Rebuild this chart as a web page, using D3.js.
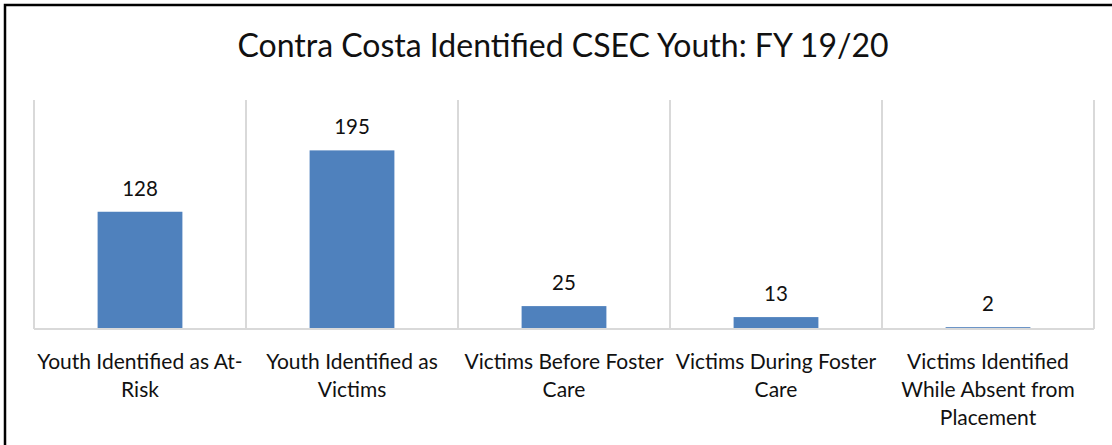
<!DOCTYPE html>
<html>
<head>
<meta charset="utf-8">
<script src="https://cdn.jsdelivr.net/npm/d3@7"></script>
<style>
  html, body { margin: 0; padding: 0; background: #fff; }
  svg { display: block; font-family: Lato, "Open Sans", sans-serif; }
</style>
</head>
<body>
<div id="chart"></div>
<script>
// chart data
const title = "Contra Costa Identified CSEC Youth: FY 19/20";
const categories = [
    "Youth Identified as At-Risk",
    "Youth Identified as Victims",
    "Victims Before Foster Care",
    "Victims During Foster Care",
    "Victims Identified While Absent from Placement"
];
// how the axis labels wrap in the picture
const categoryLines = [
    ["Youth Identified as At-", "Risk"],
    ["Youth Identified as", "Victims"],
    ["Victims Before Foster", "Care"],
    ["Victims During Foster", "Care"],
    ["Victims Identified", "While Absent from", "Placement"]
];
const values = [128, 195, 25, 13, 2];
const yMax = 250;

const W = 1112, H = 445;
const margin = {top: 100, right: 18, bottom: 116, left: 34};
const width = W - margin.left - margin.right;
const height = H - margin.top - margin.bottom;

const svg = d3.select("#chart").append("svg")
    .attr("width", W)
    .attr("height", H);

// outer frame (runs off the right and bottom edges)
svg.append("rect")
    .attr("x", 5).attr("y", 5)
    .attr("width", W + 20).attr("height", H + 20)
    .attr("fill", "#fff")
    .attr("stroke", "#000")
    .attr("stroke-width", 2.5);

svg.append("text")
    .attr("x", 563)
    .attr("y", 57)
    .attr("text-anchor", "middle")
    .attr("font-size", 32)
    .attr("fill", "#111")
    .text(title);

const g = svg.append("g")
    .attr("transform", `translate(${margin.left},${margin.top})`);

const x = d3.scaleBand()
    .domain(categories)
    .range([0, width])
    .paddingInner(0.6)
    .paddingOuter(0.3);

// band boundaries for the vertical separators
const step = width / categories.length;

const y = d3.scaleLinear()
    .domain([0, yMax])
    .range([height, 0]);

// vertical separators
g.selectAll(".sep")
    .data(d3.range(categories.length + 1))
    .enter()
    .append("line")
    .attr("class", "sep")
    .attr("x1", i => i * step)
    .attr("x2", i => i * step)
    .attr("y1", 0)
    .attr("y2", height)
    .attr("stroke", "#d9d9d9")
    .attr("stroke-width", 2);

// bars
g.selectAll(".bar")
    .data(values)
    .enter()
    .append("rect")
    .attr("class", "bar")
    .attr("x", (d, i) => x(categories[i]))
    .attr("y", d => y(d))
    .attr("width", x.bandwidth())
    .attr("height", d => height - y(d))
    .attr("fill", "#4f81bd");

// baseline
g.append("line")
    .attr("x1", 0).attr("x2", width)
    .attr("y1", height).attr("y2", height)
    .attr("stroke", "#d9d9d9")
    .attr("stroke-width", 2);

// value labels
g.selectAll(".val")
    .data(values)
    .enter()
    .append("text")
    .attr("class", "val")
    .attr("x", (d, i) => x(categories[i]) + x.bandwidth() / 2)
    .attr("y", d => y(d) - 16)
    .attr("text-anchor", "middle")
    .attr("font-size", 20.5)
    .attr("fill", "#111")
    .text(d => d);

// category labels
const labels = g.selectAll(".cat")
    .data(categories)
    .enter()
    .append("text")
    .attr("class", "cat")
    .attr("x", d => x(d) + x.bandwidth() / 2)
    .attr("y", height + 40)
    .attr("text-anchor", "middle")
    .attr("font-size", 21)
    .attr("fill", "#111");

labels.selectAll("tspan")
    .data((d, i) => categoryLines[i])
    .enter()
    .append("tspan")
    .attr("x", function () { return d3.select(this.parentNode).attr("x"); })
    .attr("dy", (d, i) => i === 0 ? 0 : 28)
    .text(d => d);
</script>
</body>
</html>
